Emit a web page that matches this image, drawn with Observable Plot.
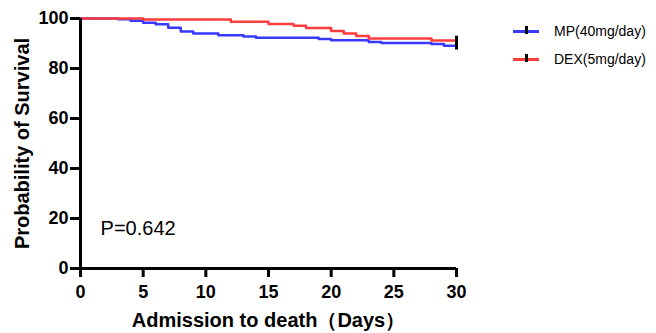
<!DOCTYPE html>
<html>
<head>
<meta charset="utf-8">
<script src="https://cdn.jsdelivr.net/npm/d3@7"></script>
<script src="https://cdn.jsdelivr.net/npm/@observablehq/plot@0.6"></script>
<style>
  body { margin: 0; background: #fff; }
  #wrap { position: relative; width: 656px; height: 333px; font-family: "Liberation Sans", Arial, sans-serif; }
  .legend { position: absolute; left: 513px; font-size: 14px; color: #000; display: flex; align-items: center; }
  .legend .sw { position: relative; width: 26px; height: 3px; margin-right: 15px; }
  .legend .sw::after { content: ""; position: absolute; left: 12px; top: -4px; width: 2.5px; height: 8px; background: #000; }
</style>
</head>
<body>
<div id="wrap"></div>
<script>
const seriesNames = ["MP(40mg/day)", "DEX(5mg/day)"];
const seriesColors = ["#3838ff", "#ff3c3c"];
const mpDays = [0, 3, 4, 5, 6, 7, 8, 9, 11, 13, 14, 19, 20, 23, 24, 28, 29, 30];
const mpSurv = [100, 99.7, 99.1, 98.3, 97.7, 96.3, 94.8, 94.0, 93.3, 92.8, 92.3, 91.8, 91.3, 90.6, 90.2, 89.8, 89.1, 89.1];
const dexDays = [0, 5, 12, 15, 17, 18, 20, 21, 22, 23, 28, 30];
const dexSurv = [100, 99.6, 98.7, 97.8, 97.1, 96.2, 95.0, 94.0, 93.0, 92.0, 91.2, 91.2];
const xTicks = [0, 5, 10, 15, 20, 25, 30];
const yTicks = [0, 20, 40, 60, 80, 100];
const xLabel = "Admission to death（Days）";
const yLabel = "Probability of Survival";
const pText = "P=0.642";

const data = [
  ...mpDays.map((d, i) => ({group: seriesNames[0], x: d, y: mpSurv[i]})),
  ...dexDays.map((d, i) => ({group: seriesNames[1], x: d, y: dexSurv[i]}))
];
const ends = [
  {group: seriesNames[0], x: mpDays[mpDays.length - 1], y: mpSurv[mpSurv.length - 1]},
  {group: seriesNames[1], x: dexDays[dexDays.length - 1], y: dexSurv[dexSurv.length - 1]}
];

const chart = Plot.plot({
  width: 656,
  height: 333,
  marginLeft: 80,
  marginRight: 200,
  marginTop: 18,
  marginBottom: 65,
  style: {fontFamily: "Liberation Sans, Arial, sans-serif", fontSize: "18px", fontWeight: "bold", color: "#000", background: "#fff"},
  x: {domain: [0, 30]},
  y: {domain: [0, 100]},
  color: {domain: seriesNames, range: seriesColors},
  marks: [
    Plot.line(data, {x: "x", y: "y", z: "group", stroke: "group", curve: "step-after", strokeWidth: 2.5}),
    Plot.ruleX(ends, {x: "x", y1: d => d.y - 1.7, y2: d => d.y + 1.7, stroke: "#000", strokeWidth: 3}),
    Plot.axisX({ticks: xTicks, tickSize: 9, tickPadding: 8, strokeWidth: 3, label: null, fontSize: 18, fontWeight: "bold"}),
    Plot.axisY({ticks: yTicks, tickSize: 10, tickPadding: 2, strokeWidth: 3, label: null, fontSize: 18, fontWeight: "bold"}),
    Plot.ruleX([0], {stroke: "#000", strokeWidth: 3}),
    Plot.ruleY([0], {stroke: "#000", strokeWidth: 3}),
    Plot.text([pText], {x: 1.6, y: 16, text: d => d, textAnchor: "start", fontSize: 20, fontWeight: "normal", fill: "#000"}),
    Plot.text([xLabel], {frameAnchor: "bottom", dy: 58, text: d => d, textAnchor: "middle", fontSize: 20, fontWeight: "bold", fill: "#000"}),
    Plot.text([yLabel], {frameAnchor: "left", dx: -58, rotate: -90, text: d => d, textAnchor: "middle", fontSize: 20, fontWeight: "bold", fill: "#000"})
  ]
});
const wrap = document.getElementById("wrap");
wrap.appendChild(chart);
const legendTops = [31, 59];
seriesNames.forEach((name, i) => {
  const item = document.createElement("div");
  item.className = "legend";
  item.style.top = (legendTops[i] - 9) + "px";
  item.style.height = "18px";
  const sw = document.createElement("span");
  sw.className = "sw";
  sw.style.background = seriesColors[i];
  const label = document.createElement("span");
  label.textContent = name;
  item.appendChild(sw);
  item.appendChild(label);
  wrap.appendChild(item);
});
</script>
</body>
</html>
